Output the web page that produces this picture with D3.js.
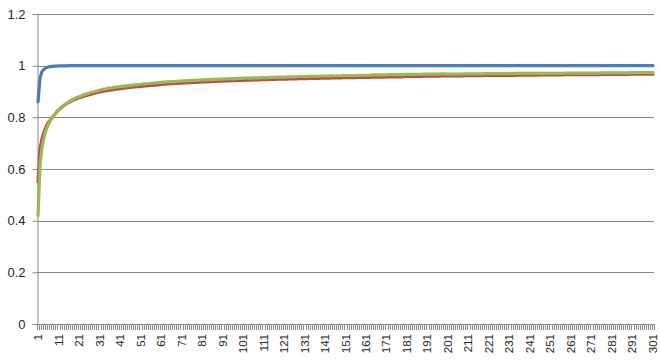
<!DOCTYPE html>
<html>
<head>
<meta charset="utf-8">
<script src="https://cdn.jsdelivr.net/npm/d3@7"></script>
<style>
  body { margin: 0; background: #fff; }
  text { font-family: "Liberation Sans", Arial, sans-serif; fill: #262626; }
</style>
</head>
<body>
<div id="chart"></div>
<script>
// categories 1..301
var categories = d3.range(1, 302);
var yTicks = [0, 0.2, 0.4, 0.6, 0.8, 1, 1.2];
var xLabelEvery = 10;

var blueValues = [
  0.86, 0.955, 0.978, 0.987, 0.992, 0.995, 0.996, 0.997, 0.998, 0.998,
  0.999, 0.999, 0.999, 0.999, 0.999, 1, 1, 1, 1, 1,
  1, 1, 1, 1, 1, 1, 1, 1, 1, 1, 1, 1, 1, 1, 1, 1, 1, 1, 1, 1,
  1, 1, 1, 1, 1, 1, 1, 1, 1, 1, 1, 1, 1, 1, 1, 1, 1, 1, 1, 1,
  1, 1, 1, 1, 1, 1, 1, 1, 1, 1, 1, 1, 1, 1, 1, 1, 1, 1, 1, 1,
  1, 1, 1, 1, 1, 1, 1, 1, 1, 1, 1, 1, 1, 1, 1, 1, 1, 1, 1, 1,
  1, 1, 1, 1, 1, 1, 1, 1, 1, 1, 1, 1, 1, 1, 1, 1, 1, 1, 1, 1,
  1, 1, 1, 1, 1, 1, 1, 1, 1, 1, 1, 1, 1, 1, 1, 1, 1, 1, 1, 1,
  1, 1, 1, 1, 1, 1, 1, 1, 1, 1, 1, 1, 1, 1, 1, 1, 1, 1, 1, 1,
  1, 1, 1, 1, 1, 1, 1, 1, 1, 1, 1, 1, 1, 1, 1, 1, 1, 1, 1, 1,
  1, 1, 1, 1, 1, 1, 1, 1, 1, 1, 1, 1, 1, 1, 1, 1, 1, 1, 1, 1,
  1, 1, 1, 1, 1, 1, 1, 1, 1, 1, 1, 1, 1, 1, 1, 1, 1, 1, 1, 1,
  1, 1, 1, 1, 1, 1, 1, 1, 1, 1, 1, 1, 1, 1, 1, 1, 1, 1, 1, 1,
  1, 1, 1, 1, 1, 1, 1, 1, 1, 1, 1, 1, 1, 1, 1, 1, 1, 1, 1, 1,
  1, 1, 1, 1, 1, 1, 1, 1, 1, 1, 1, 1, 1, 1, 1, 1, 1, 1, 1, 1,
  1, 1, 1, 1, 1, 1, 1, 1, 1, 1, 1, 1, 1, 1, 1, 1, 1, 1, 1, 1,
  1
];

var redValues = [
  0.55, 0.68, 0.72, 0.745, 0.765, 0.78, 0.79, 0.80, 0.81, 0.82,
  0.828, 0.835, 0.842, 0.848, 0.853, 0.857, 0.862, 0.866, 0.869, 0.873,
  0.876, 0.878, 0.881, 0.884, 0.886, 0.888, 0.890, 0.892, 0.894, 0.896,
  0.898, 0.899, 0.901, 0.902, 0.904, 0.905, 0.906, 0.908, 0.909, 0.910,
  0.911, 0.912, 0.913, 0.914, 0.915, 0.916, 0.917, 0.918, 0.919, 0.919,
  0.920, 0.921, 0.922, 0.922, 0.923, 0.924, 0.924, 0.925, 0.926, 0.926,
  0.927, 0.928, 0.928, 0.929, 0.929, 0.930, 0.930, 0.931, 0.931, 0.932,
  0.932, 0.933, 0.933, 0.934, 0.934, 0.935, 0.935, 0.935, 0.936, 0.936,
  0.937, 0.937, 0.937, 0.938, 0.938, 0.939, 0.939, 0.939, 0.940, 0.940,
  0.940, 0.941, 0.941, 0.941, 0.942, 0.942, 0.942, 0.942, 0.943, 0.943,
  0.943, 0.944, 0.944, 0.944, 0.944, 0.945, 0.945, 0.945, 0.945, 0.946,
  0.946, 0.946, 0.946, 0.947, 0.947, 0.947, 0.947, 0.948, 0.948, 0.948,
  0.948, 0.948, 0.949, 0.949, 0.949, 0.949, 0.949, 0.950, 0.950, 0.950,
  0.950, 0.950, 0.951, 0.951, 0.951, 0.951, 0.951, 0.951, 0.952, 0.952,
  0.952, 0.952, 0.952, 0.953, 0.953, 0.953, 0.953, 0.953, 0.953, 0.954,
  0.954, 0.954, 0.954, 0.954, 0.954, 0.954, 0.955, 0.955, 0.955, 0.955,
  0.955, 0.955, 0.955, 0.956, 0.956, 0.956, 0.956, 0.956, 0.956, 0.956,
  0.956, 0.957, 0.957, 0.957, 0.957, 0.957, 0.957, 0.957, 0.957, 0.958,
  0.958, 0.958, 0.958, 0.958, 0.958, 0.958, 0.958, 0.958, 0.959, 0.959,
  0.959, 0.959, 0.959, 0.959, 0.959, 0.959, 0.959, 0.960, 0.960, 0.960,
  0.960, 0.960, 0.960, 0.960, 0.960, 0.960, 0.960, 0.960, 0.961, 0.961,
  0.961, 0.961, 0.961, 0.961, 0.961, 0.961, 0.961, 0.961, 0.962, 0.962,
  0.962, 0.962, 0.962, 0.962, 0.962, 0.962, 0.962, 0.962, 0.962, 0.962,
  0.962, 0.962, 0.962, 0.963, 0.963, 0.963, 0.963, 0.963, 0.963, 0.963,
  0.963, 0.963, 0.963, 0.963, 0.964, 0.964, 0.964, 0.964, 0.964, 0.964,
  0.964, 0.964, 0.964, 0.964, 0.964, 0.964, 0.964, 0.965, 0.965, 0.965,
  0.965, 0.965, 0.965, 0.965, 0.965, 0.965, 0.965, 0.965, 0.965, 0.965,
  0.965, 0.965, 0.965, 0.965, 0.965, 0.966, 0.966, 0.966, 0.966, 0.966,
  0.966, 0.966, 0.966, 0.966, 0.966, 0.966, 0.966, 0.966, 0.966, 0.967,
  0.967, 0.967, 0.967, 0.967, 0.967, 0.967, 0.967, 0.967, 0.967, 0.967,
  0.967
];

var greenValues = [
  0.42, 0.62, 0.685, 0.725, 0.752, 0.772, 0.787, 0.799, 0.810, 0.820,
  0.828, 0.835, 0.843, 0.849, 0.855, 0.860, 0.865, 0.869, 0.873, 0.877,
  0.880, 0.883, 0.886, 0.889, 0.891, 0.894, 0.896, 0.898, 0.900, 0.903,
  0.905, 0.907, 0.909, 0.910, 0.912, 0.913, 0.914, 0.916, 0.917, 0.918,
  0.919, 0.920, 0.921, 0.922, 0.923, 0.924, 0.925, 0.926, 0.927, 0.927,
  0.928, 0.929, 0.930, 0.930, 0.931, 0.932, 0.932, 0.933, 0.934, 0.934,
  0.935, 0.936, 0.936, 0.937, 0.937, 0.938, 0.938, 0.939, 0.939, 0.940,
  0.940, 0.941, 0.941, 0.942, 0.942, 0.943, 0.943, 0.943, 0.944, 0.944,
  0.945, 0.945, 0.945, 0.946, 0.946, 0.947, 0.947, 0.947, 0.948, 0.948,
  0.948, 0.949, 0.949, 0.949, 0.950, 0.950, 0.950, 0.950, 0.951, 0.951,
  0.951, 0.952, 0.952, 0.952, 0.952, 0.953, 0.953, 0.953, 0.953, 0.954,
  0.954, 0.954, 0.954, 0.955, 0.955, 0.955, 0.955, 0.956, 0.956, 0.956,
  0.956, 0.956, 0.957, 0.957, 0.957, 0.957, 0.957, 0.958, 0.958, 0.958,
  0.958, 0.958, 0.959, 0.959, 0.959, 0.959, 0.959, 0.959, 0.960, 0.960,
  0.960, 0.960, 0.960, 0.961, 0.961, 0.961, 0.961, 0.961, 0.961, 0.962,
  0.962, 0.962, 0.962, 0.962, 0.962, 0.962, 0.963, 0.963, 0.963, 0.963,
  0.963, 0.963, 0.963, 0.964, 0.964, 0.964, 0.964, 0.964, 0.964, 0.964,
  0.964, 0.965, 0.965, 0.965, 0.965, 0.965, 0.965, 0.965, 0.965, 0.966,
  0.966, 0.966, 0.966, 0.966, 0.966, 0.966, 0.966, 0.966, 0.967, 0.967,
  0.967, 0.967, 0.967, 0.967, 0.967, 0.967, 0.967, 0.968, 0.968, 0.968,
  0.967, 0.967, 0.967, 0.967, 0.967, 0.967, 0.967, 0.967, 0.968, 0.968,
  0.968, 0.968, 0.968, 0.968, 0.968, 0.968, 0.968, 0.968, 0.969, 0.969,
  0.969, 0.969, 0.969, 0.969, 0.969, 0.969, 0.969, 0.969, 0.969, 0.969,
  0.969, 0.969, 0.969, 0.970, 0.970, 0.970, 0.970, 0.970, 0.970, 0.970,
  0.970, 0.970, 0.970, 0.970, 0.970, 0.970, 0.970, 0.970, 0.970, 0.970,
  0.970, 0.970, 0.970, 0.970, 0.970, 0.970, 0.970, 0.971, 0.971, 0.971,
  0.971, 0.971, 0.971, 0.971, 0.971, 0.971, 0.971, 0.971, 0.971, 0.971,
  0.971, 0.971, 0.971, 0.971, 0.971, 0.972, 0.972, 0.972, 0.972, 0.972,
  0.972, 0.972, 0.972, 0.972, 0.972, 0.972, 0.972, 0.972, 0.972, 0.973,
  0.973, 0.973, 0.973, 0.973, 0.973, 0.973, 0.973, 0.973, 0.973, 0.973,
  0.973
];

var svgWidth = 660;
var svgHeight = 360;

var margin = {
  top: 14,
  right: 6,
  bottom: 36,
  left: 37
};

var width = svgWidth - margin.left - margin.right;
var height = svgHeight - margin.top - margin.bottom;

var gridColor = "#898989";

var svg = d3.select("#chart")
  .append("svg")
  .attr("width", svgWidth)
  .attr("height", svgHeight)
  .style("display", "block");

svg.append("rect")
  .attr("width", svgWidth)
  .attr("height", svgHeight)
  .attr("fill", "#fff");

var chartGroup = svg.append("g")
  .attr("transform", `translate(${margin.left}, ${margin.top})`);

var xBand = d3.scaleBand()
  .domain(categories)
  .range([0, width]);

var yLinearScale = d3.scaleLinear()
  .domain([0, 1.2])
  .range([height, 0]);

function xCenter(d) {
  return xBand(d) + xBand.bandwidth() / 2;
}

// horizontal gridlines
chartGroup.append("g")
  .selectAll("line")
  .data(yTicks)
  .enter()
  .append("line")
  .attr("x1", 0)
  .attr("x2", width)
  .attr("y1", d => Math.round(yLinearScale(d)) + 0.5)
  .attr("y2", d => Math.round(yLinearScale(d)) + 0.5)
  .attr("stroke", gridColor)
  .attr("stroke-width", 1);

// y axis
var leftAxis = d3.axisLeft(yLinearScale)
  .tickValues(yTicks)
  .tickSize(5)
  .tickPadding(7)
  .tickFormat(d3.format("~g"));

var yAxis = chartGroup.append("g")
  .attr("transform", "translate(0.5, 0)")
  .call(leftAxis);

yAxis.select(".domain").attr("stroke", gridColor);
yAxis.selectAll(".tick line").attr("stroke", gridColor);
yAxis.selectAll(".tick text")
  .attr("font-size", "13px")
  .attr("font-family", "\"Liberation Sans\", Arial, sans-serif")
  .attr("fill", "#262626");

// x axis line and category tick marks (between categories)
var xTickPositions = categories.map(d => xBand(d)).concat([width]);

var xAxisGroup = chartGroup.append("g")
  .attr("transform", `translate(0, ${height})`);

xAxisGroup.selectAll(".xtick")
  .data(xTickPositions)
  .enter()
  .append("line")
  .attr("class", "xtick")
  .attr("x1", d => Math.round(d) + 0.5)
  .attr("x2", d => Math.round(d) + 0.5)
  .attr("y1", 0)
  .attr("y2", 6)
  .attr("stroke", gridColor)
  .attr("stroke-width", 1);

xAxisGroup.append("line")
  .attr("x1", 0)
  .attr("x2", width)
  .attr("y1", 0.5)
  .attr("y2", 0.5)
  .attr("stroke", gridColor);

// rotated category labels, every 10th
xAxisGroup.selectAll(".xlabel")
  .data(categories.filter((d, i) => i % xLabelEvery === 0))
  .enter()
  .append("text")
  .attr("class", "xlabel")
  .attr("transform", d => `translate(${xCenter(d) + 4}, 10) rotate(-90)`)
  .attr("text-anchor", "end")
  .attr("font-size", "11.5px")
  .text(d => d);

// series lines
var seriesList = [
  { name: "blue", values: blueValues, color: "#4A7EBB" },
  { name: "red", values: redValues, color: "#BE4B48" },
  { name: "green", values: greenValues, color: "#98B954" }
];

var line = d3.line()
  .x((d, i) => xCenter(categories[i]))
  .y(d => yLinearScale(d));

chartGroup.selectAll(".series")
  .data(seriesList)
  .enter()
  .append("path")
  .attr("class", "series")
  .attr("d", d => line(d.values))
  .attr("fill", "none")
  .attr("stroke", d => d.color)
  .attr("stroke-width", 3.2)
  .attr("stroke-linejoin", "round")
  .attr("stroke-linecap", "round");
</script>
</body>
</html>
